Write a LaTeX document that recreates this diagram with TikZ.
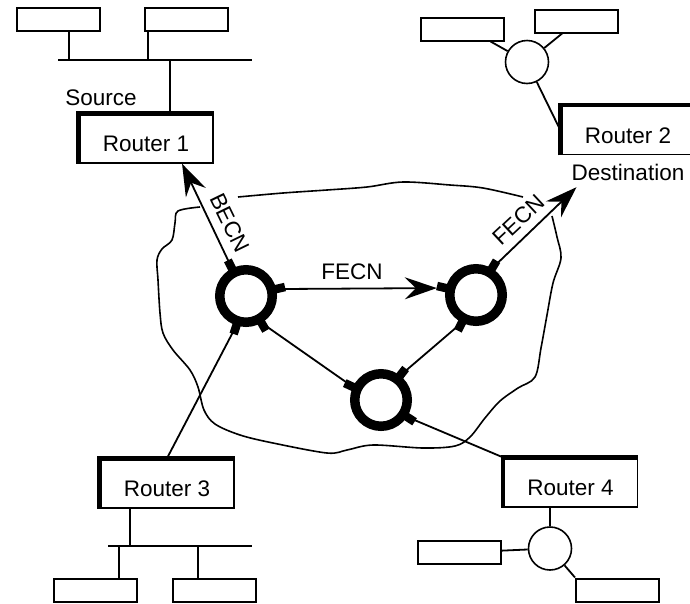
\documentclass[tikz,border=0pt]{standalone}
\usepackage{fontspec}
\setsansfont{Liberation Sans}
\usetikzlibrary{positioning}
\usetikzlibrary{arrows.meta}

\begin{document}
\begin{tikzpicture}[
    x = 1pt,
    y = 1pt,
    font = \fontsize{22.5}{27}\selectfont\sffamily,
    >={Stealth[length=32pt,width=22pt,inset=11pt]},
    routerf/.style = {
      rectangle,
      draw,
      line width=1.5pt,
      minimum width=134pt,
      minimum height=49pt,
      inner sep=0pt,
      text height=26pt,
      text depth=0pt
    },
    edgef/.style = {
      line width=4.5pt
    },
    hostf/.style = {
      rectangle,
      draw,
      line width=2pt,
      minimum width=83pt,
      minimum height=23pt,
      inner sep=0pt
    },
    hubf/.style = {
      circle,
      draw,
      line width=1.6pt,
      minimum size=43pt,
      inner sep=0pt
    },
    switchf/.style = {
      circle,
      draw,
      line width=9.5pt,
      minimum size=52.5pt,
      inner sep=0pt
    },
    tabf/.style = {
      line width=8.5pt
    },
    linef/.style = {
      line width=1.8pt
    },
    cloudf/.style = {
      line width=1.6pt
    },
    labela/.style = {
      inner sep=1pt
    }
  ]
    \useasboundingbox (0,0) rectangle (690,-603);

    % routers
    \node[routerf] (r1) at (146,-138.5) {Router 1};
    \node[routerf] (r2) at (628,-130) {Router 2};
    \node[routerf] (r3) at (167,-483.5) {Router 3};
    \node[routerf] (r4) at (570.5,-482.5) {Router 4};

    \draw[edgef] (r1.south west) |- (r1.north east);
    \draw[edgef] (r2.south west) |- (r2.north east);
    \draw[edgef] (r3.south west) |- (r3.north east);
    \draw[edgef] (r4.south west) |- (r4.north east);

    \node[labela] (src) at (101,-97.5) {Source};
    \node[labela] (dest) [below=8pt of r2] {Destination};

    % hosts
    \node[hostf] (ha) at (58.5,-19.5) {};
    \node[hostf] (hb) at (186.5,-19.5) {};
    \node[hostf] (hc) at (462.5,-29) {};
    \node[hostf] (hd) at (576,-21) {};
    \node[hostf] (he) at (95.5,-590.5) {};
    \node[hostf] (hf) at (214.5,-590.5) {};
    \node[hostf] (hg) at (459.5,-552.5) {};
    \node[hostf] (hh) at (617.5,-590) {};

    % hubs
    \node[hubf] (hub1) at (527,-62) {};
    \node[hubf] (hub2) at (550,-548.5) {};

    % switches
    \node[switchf] (sw1) at (246,-296) {};
    \node[switchf] (sw2) at (476,-295) {};
    \node[switchf] (sw3) at (381,-400) {};

    % buses
    \coordinate (bus1l) at (58,-60);
    \coordinate (bus1r) at (252,-60);
    \coordinate (ta) at (69,-60);
    \coordinate (tb) at (148,-60);
    \coordinate (tr1) at (170,-60);
    \draw[linef] (bus1l) -- (bus1r);
    \draw[linef] (ta) -- (ta |- ha.south);
    \draw[linef] (tb) -- (tb |- hb.south);
    \draw[linef] (tr1) -- (tr1 |- r1.north);

    \coordinate (bus2l) at (108,-546);
    \coordinate (bus2r) at (252,-546);
    \coordinate (tr3) at (130,-546);
    \coordinate (te) at (119,-546);
    \coordinate (tf) at (198,-546);
    \draw[linef] (bus2l) -- (bus2r);
    \draw[linef] (tr3) -- (tr3 |- r3.south);
    \draw[linef] (te) -- (te |- he.north);
    \draw[linef] (tf) -- (tf |- hf.north);

    % hub links
    \draw[linef] (hc.-24) -- (hub1);
    \draw[linef] (hd.-138) -- (hub1);
    \draw[linef] (hub1) -- (r2.west);
    \draw[linef] (hub2) -- (hub2 |- r4.south);
    \draw[linef] (hg) -- (hub2);
    \draw[linef] (hub2) -- (hh.north west);

    % cloud
    \draw[cloudf] plot[smooth, tension=0.55] coordinates {
      (552,-216) (557,-237) (561,-258) (553,-283) (547,-315) (541,-348)
      (535,-377) (518,-388) (500,-401) (485,-418) (470,-437) (455,-446)
      (423,-448) (373,-445) (347,-450) (327,-453) (273,-443) (240,-435)
      (215,-424) (204,-410) (198,-387) (190,-370) (173,-350) (163,-333)
      (160,-313) (158,-280) (157,-260) (162,-249) (172,-240) (175,-223)
      (178,-211) (200,-207)};
    \draw[cloudf] plot[smooth, tension=0.55] coordinates {
      (238,-197) (283,-193) (327,-190) (367,-187) (403,-182) (450,-185)
      (483,-188) (523,-197)};

    % network links
    \draw[linef,->] (sw1.117) -- (r1.-35);
    \draw[linef,->,shorten >=9pt] (sw1.13) -- (sw2.167);
    \draw[linef,->] (sw2.59) -- ([xshift=6pt,yshift=-5pt]dest.south west);
    \draw[linef] (sw1.-108) -- (r3.north);
    \draw[linef] (sw1.-60) -- (sw3.155);
    \draw[linef] (sw2.-117) -- (sw3.52);
    \draw[linef] (sw3.-33) -- (r4.north west);

    \foreach \sw/\ang in {sw1/117, sw1/13, sw1/-108, sw1/-60, sw2/167,
                          sw2/59, sw2/-117, sw3/155, sw3/52, sw3/-33}
      \draw[tabf] (\sw.\ang) ++(\ang:-3) -- ++(\ang:12);

    \node[labela, rotate=-64] (becn) at (230,-223) {BECN};
    \node[labela] (fecn1) at (352,-272) {FECN};
    \node[labela, rotate=43] (fecn2) at (519,-220) {FECN};

  \end{tikzpicture}
\end{document}
